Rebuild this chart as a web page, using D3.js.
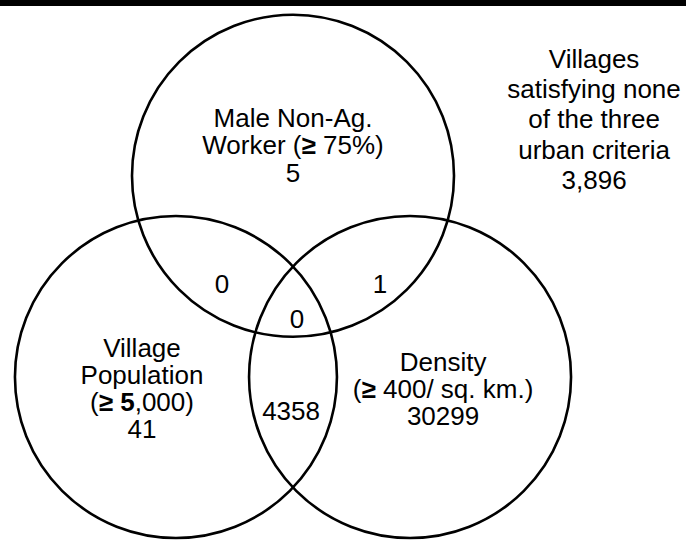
<!DOCTYPE html>
<html>
<head>
<meta charset="utf-8">
<script src="https://cdn.jsdelivr.net/npm/d3@7/dist/d3.min.js"></script>
<style>
  body { margin: 0; background: #fff; }
  svg { display: block; font-family: 'Liberation Sans', Arial, sans-serif; }
  .ring { fill: none; stroke: #000; stroke-width: 2.6; }
  .lbl { font-size: 26px; fill: #000; text-anchor: middle; }
  .b { font-weight: bold; }
</style>
</head>
<body>
<div id="chart"></div>
<script>
// sets and their counts
const setNames = ['Male Non-Ag. Worker (≥ 75%)', 'Village Population (≥ 5,000)', 'Density (≥ 400/ sq. km.)']
const onlyCounts = [5, 41, 30299]
const pairNames = ['Worker ∩ Population', 'Worker ∩ Density', 'Population ∩ Density']
const pairCounts = [0, 1, 4358]
const allThree = 0
const noneCount = 3896

const width = 686
const height = 540

// circle layout in venn units (radius 1)
const circleLayout = [
  { x: 0, y: -1.25 },
  { x: -0.727, y: 0 },
  { x: 0.727, y: 0 }
]

// same px per unit on both axes
const unit = 161
const x = d3.scaleLinear().domain([0, 1]).range([293, 293 + unit])
const y = d3.scaleLinear().domain([0, 1]).range([377, 377 + unit])
const r = unit

const svg = d3.select('#chart').append('svg')
  .attr('width', width)
  .attr('height', height)

svg.append('rect')
  .attr('x', 0).attr('y', 0)
  .attr('width', width).attr('height', 6)
  .attr('fill', '#000')

svg.append('g')
  .selectAll('circle')
  .data(circleLayout)
  .enter().append('circle')
  .attr('class', 'ring')
  .attr('cx', d => x(d.x))
  .attr('cy', d => y(d.y))
  .attr('r', r)

const fmt = d3.format(',')

// label blocks: lines are arrays of [text, bold] parts
const blocks = [
  { at: [0, -1.553], step: 27.5, lines: [
    [['Male Non-Ag.']],
    [['Worker ('], ['≥', 1], [' 75%)']],
    [[String(onlyCounts[0])]]
  ]},
  { at: [-0.938, -0.124], step: 27, lines: [
    [['Village']],
    [['Population']],
    [['('], ['≥', 1], [' '], ['5', 1], [',000)']],
    [[String(onlyCounts[1])]]
  ]},
  { at: [0.932, -0.037], step: 27, lines: [
    [['Density']],
    [['('], ['≥', 1], [' 400/ sq. km.)']],
    [[String(onlyCounts[2])]]
  ]},
  { at: [1.87, -1.919], step: 30.2, lines: [
    [['Villages']],
    [['satisfying none']],
    [['of the three']],
    [['urban criteria']],
    [[fmt(noneCount)]]
  ]},
  { at: [-0.441, -0.522], step: 0, lines: [[[String(pairCounts[0])]]] },
  { at: [0.54, -0.522], step: 0, lines: [[[String(pairCounts[1])]]] },
  { at: [-0.012, 0.267], step: 0, lines: [[[String(pairCounts[2])]]] },
  { at: [0.025, -0.304], step: 0, lines: [[[String(allThree)]]] }
]

blocks.forEach(b => {
  const t = svg.append('text')
    .attr('class', 'lbl')
    .attr('transform', `translate(${x(b.at[0])} ${y(b.at[1])})`)
  b.lines.forEach((parts, i) => {
    parts.forEach((p, j) => {
      const s = t.append('tspan')
        .text(p[0])
        .classed('b', !!p[1])
      if (j === 0) s.attr('x', 0).attr('y', i * b.step)
    })
  })
})
</script>
</body>
</html>
